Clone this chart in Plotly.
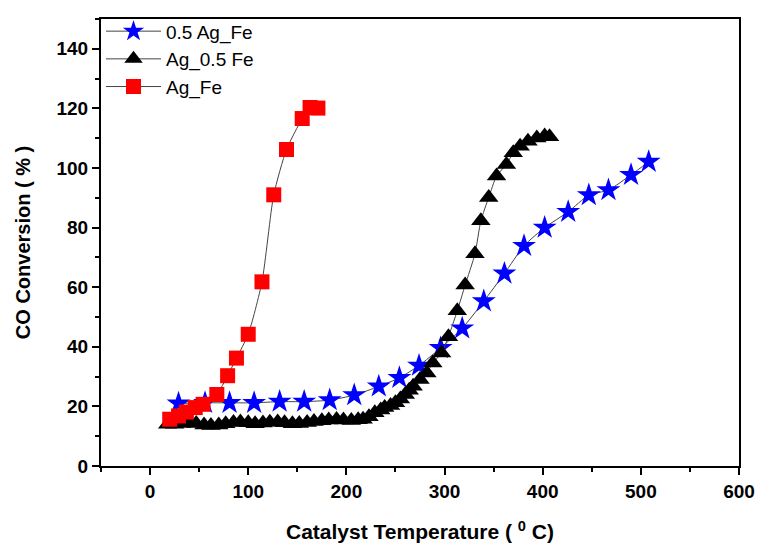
import plotly.graph_objects as go

# 0.5 Ag_Fe (blue stars)
x_05agfe = [29, 56, 81, 106, 132, 157, 183, 208, 233, 254, 274, 296, 318, 340, 361, 381, 402, 426, 447, 467, 490, 508]
y_05agfe = [21.0, 21.2, 21.2, 21.2, 21.6, 21.6, 22.1, 23.8, 26.7, 29.6, 33.7, 39.6, 46.2, 55.3, 64.6, 73.9, 80.0, 85.3, 90.9, 92.6, 97.7, 102.1]

# Ag_0.5 Fe (black triangles)
x_ag05fe = [18, 25, 32, 40, 47, 55, 62, 70, 77, 85, 92, 100, 107, 115, 122, 130, 137, 145, 152, 160,
            167, 175, 182, 190, 197, 205, 212, 217, 223, 229, 235, 239, 245, 250, 255, 260, 264, 268,
            275, 282, 288, 297, 304, 313, 321, 331, 337, 345, 353, 363, 370, 377, 385, 394, 402, 407]
y_ag05fe = [14.0, 14.0, 14.3, 14.5, 14.3, 13.8, 13.6, 13.8, 14.2, 14.6, 14.8, 14.5, 14.2, 14.4, 14.7, 14.8,
            14.5, 14.2, 14.3, 14.6, 14.9, 15.2, 15.4, 15.6, 15.4, 15.3, 15.5, 15.7, 16.5, 17.9, 18.8, 19.6,
            20.3, 21.2, 22.5, 24.0, 25.4, 26.8, 29.0, 31.2, 34.6, 37.9, 43.4, 52.1, 60.7, 71.2, 82.3, 90.1,
            97.3, 101.2, 105.1, 107.3, 109.0, 110.1, 110.7, 110.5]

# Ag_Fe (red squares)
x_agfe = [20, 29, 37, 46, 54, 68, 79, 88, 100, 114, 126, 139, 155, 163, 171]
y_agfe = [15.7, 16.8, 18.1, 19.6, 20.7, 24.0, 30.3, 36.2, 44.2, 61.8, 91.0, 106.2, 116.6, 120.3, 120.1]

x_ticks = [0, 100, 200, 300, 400, 500, 600]
y_ticks = [0, 20, 40, 60, 80, 100, 120, 140]

FONT = "Liberation Sans, Arial, sans-serif"
line_style = dict(color="#444444", width=1, shape="spline", smoothing=0.6)

fig = go.Figure()
fig.add_trace(go.Scatter(x=x_05agfe, y=y_05agfe, mode="lines+markers", name="0.5 Ag_Fe",
                         line=line_style,
                         marker=dict(symbol="star", size=18, color="#0000ff", line=dict(width=0))))
fig.add_trace(go.Scatter(x=x_ag05fe, y=y_ag05fe, mode="lines+markers", name="Ag_0.5 Fe",
                         line=line_style,
                         marker=dict(symbol="triangle-up", size=17, color="#000000", line=dict(width=0))))
fig.add_trace(go.Scatter(x=x_agfe, y=y_agfe, mode="lines+markers", name="Ag_Fe",
                         line=line_style,
                         marker=dict(symbol="square", size=15, color="#ff0000", line=dict(width=0))))

fig.update_layout(
    width=760, height=544,
    margin=dict(l=101, r=21, t=17, b=78),
    paper_bgcolor="white", plot_bgcolor="white",
    font=dict(family=FONT, color="black"),
    showlegend=True,
    legend=dict(x=0.0, y=1.015, xanchor="left", yanchor="top", bgcolor="rgba(0,0,0,0)",
                font=dict(size=19, family=FONT), tracegroupgap=0, itemwidth=55),
    xaxis=dict(range=[-50, 600], tickvals=x_ticks, ticktext=[str(v) for v in x_ticks],
               automargin=False,
               showgrid=False, zeroline=False, showline=True, linecolor="black", linewidth=2,
               mirror=True, ticks="outside", ticklen=7, tickwidth=2, tickcolor="black",
               minor=dict(ticks="outside", dtick=50, tick0=0, ticklen=4, tickwidth=2, tickcolor="black"),
               tickfont=dict(size=19, family=FONT, weight="bold"),
               title=dict(text="Catalyst Temperature ( <sup>0</sup> C)", standoff=24,
                          font=dict(size=21, family=FONT, weight="bold"))),
    yaxis=dict(range=[0, 150], tickvals=y_ticks, ticktext=[str(v) for v in y_ticks],
               automargin=False,
               showgrid=False, zeroline=False, showline=True, linecolor="black", linewidth=2,
               mirror=True, ticks="outside", ticklen=7, tickwidth=2, tickcolor="black",
               minor=dict(ticks="outside", dtick=10, tick0=0, ticklen=4, tickwidth=2, tickcolor="black"),
               tickfont=dict(size=19, family=FONT, weight="bold"),
               title=dict(text="CO Conversion ( % )", standoff=20,
                          font=dict(size=20, family=FONT, weight="bold"))),
)

fig.write_html("out.html")
